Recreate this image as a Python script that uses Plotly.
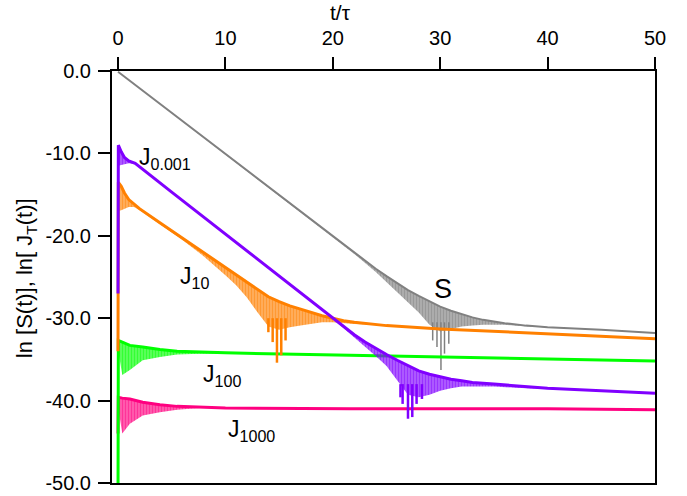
import plotly.graph_objects as go

# ---------------- data ----------------
# S(t): grey curve, upper / lower envelope of the oscillation band
s_t  = [0, 5, 10, 15, 20, 22, 24, 25, 26, 27, 28, 29, 30, 31, 32, 33, 34, 36, 38, 40, 45, 50]
s_hi = [-0.1, -5.1, -10.1, -15.1, -20.1, -22.1, -24.0, -24.9, -25.8, -26.6, -27.3, -28.0, -28.6,
        -29.1, -29.5, -29.9, -30.2, -30.6, -30.9, -31.1, -31.4, -31.8]
s_lo = [-0.1, -5.1, -10.1, -15.1, -20.1, -22.2, -24.4, -25.6, -26.8, -28.0, -29.3, -30.8, -31.6,
        -31.3, -31.0, -30.9, -30.8, -30.8, -31.0, -31.1, -31.4, -31.8]
s_spike_t  = [29.3, 29.7, 30.07, 30.4, 30.8]
s_spike_lo = [-32.7, -33.5, -36.3, -34.3, -33.1]

# J_10: orange
j10_t  = [0, 0.03, 0.3, 0.6, 1.0, 1.5, 2, 4, 6, 8, 9, 10, 11, 12, 13, 14, 15, 16, 17, 18,
          19, 20, 21, 22, 25, 30, 35, 40, 45, 50]
j10_hi = [-34.0, -13.5, -14.0, -14.8, -15.6, -16.2, -16.7, -18.5, -20.3, -22.1, -23.0, -23.8,
          -24.7, -25.6, -26.5, -27.4, -28.0, -28.5, -28.9, -29.3, -29.7, -30.0, -30.3, -30.5,
          -30.9, -31.3, -31.6, -31.9, -32.2, -32.5]
j10_lo = [-34.0, -17.0, -16.9, -16.7, -16.5, -16.5, -16.9, -18.7, -20.5, -22.5, -23.6, -24.8,
          -26.0, -27.5, -29.3, -31.0, -31.4, -31.1, -30.9, -30.7, -30.5, -30.5, -30.6, -30.7,
          -30.9, -31.3, -31.6, -31.9, -32.2, -32.5]
j10_spike_t  = [14.0, 14.4, 14.8, 15.2, 15.6]
j10_spike_lo = [-31.7, -32.9, -35.4, -34.5, -32.7]

# J_0.001: violet
j0001_t  = [0, 0.03, 0.3, 0.6, 1.0, 1.6, 5, 10, 15, 20, 22, 23, 24, 25, 26, 27, 28, 29, 30,
            31, 32, 33, 35, 38, 40, 45, 50]
j0001_hi = [-27.0, -9.0, -9.8, -10.5, -10.9, -11.2, -14.7, -19.8, -24.9, -30.0, -32.0, -32.9,
            -33.7, -34.4, -35.1, -35.8, -36.4, -36.8, -37.1, -37.4, -37.6, -37.8, -38.0, -38.3,
            -38.5, -38.8, -39.1]
j0001_lo = [-27.0, -11.5, -11.4, -11.3, -11.2, -11.3, -14.8, -19.9, -25.0, -30.1, -32.3, -33.4,
            -34.6, -35.8, -37.5, -39.3, -39.6, -39.3, -38.8, -38.5, -38.3, -38.3, -38.3, -38.5,
            -38.6, -38.9, -39.1]
j0001_spike_t  = [26.3, 26.5, 27.0, 27.4, 27.8, 28.3]
j0001_spike_lo = [-39.6, -40.4, -42.2, -42.0, -40.4, -39.8]

# J_100: green
j100_t  = [0, 0.03, 0.4, 1.1, 2.3, 3.9, 5.5, 7.6, 10, 21.6, 30, 40, 50]
j100_hi = [-52.0, -32.7, -32.9, -33.3, -33.5, -33.8, -34.0, -34.1, -34.2, -34.5, -34.7, -34.9, -35.2]
j100_lo = [-52.0, -34.0, -36.9, -36.3, -35.1, -34.7, -34.4, -34.3, -34.3, -34.5, -34.7, -34.9, -35.2]

# J_1000: pink
j1000_t  = [0, 0.03, 0.4, 1.1, 2.3, 3.9, 5.5, 7.6, 10, 21.6, 40, 50]
j1000_hi = [-44.0, -39.6, -39.7, -39.8, -40.2, -40.5, -40.7, -40.8, -40.9, -41.0, -41.0, -41.1]
j1000_lo = [-44.0, -41.0, -44.0, -42.8, -41.8, -41.4, -41.1, -40.9, -40.9, -41.0, -41.0, -41.1]

x_ticks = [0, 10, 20, 30, 40, 50]
y_ticks = [-50, -40, -30, -20, -10, 0]
y_tick_labels = ["-50.0", "-40.0", "-30.0", "-20.0", "-10.0", "0.0"]

# ---------------- figure ----------------
FONT = "Liberation Sans, Arial, Helvetica, sans-serif"
fig = go.Figure()


def rgba(hexcol, a):
    h = hexcol.lstrip("#")
    return "rgba(%d,%d,%d,%.2f)" % (int(h[0:2], 16), int(h[2:4], 16), int(h[4:6], 16), a)


def add_curve(t, hi, lo, color, width, spike_t=None, spike_lo=None, spike_top=None):
    # lower envelope: invisible edge, only used to bound the comb fill
    fig.add_trace(go.Scatter(x=t, y=lo, mode="lines", line=dict(color=color, width=0),
                             hoverinfo="skip", showlegend=False))
    # oscillation band drawn as a dense comb of vertical strokes hanging from the curve
    fig.add_trace(go.Scatter(x=t, y=hi, mode="lines", line=dict(color=color, width=width),
                             fill="tonexty", fillcolor=rgba(color, 0.6),
                             fillpattern=dict(shape="|", fgcolor=color, bgcolor=rgba(color, 0.6),
                                              size=3, solidity=0.5),
                             hoverinfo="skip", showlegend=False))
    if spike_t:
        xs, ys = [], []
        for st, sl in zip(spike_t, spike_lo):
            xs += [st, st, None]
            ys += [spike_top, sl, None]
        fig.add_trace(go.Scatter(x=xs, y=ys, mode="lines", line=dict(color=color, width=width - 0.5),
                                 hoverinfo="skip", showlegend=False))


GREY, PINK, GREEN, ORANGE, VIOLET = "#808080", "#FF0080", "#00FF00", "#FF8000", "#8000FF"

add_curve(s_t, s_hi, s_lo, GREY, 2, s_spike_t, s_spike_lo, -30.5)
add_curve(j1000_t, j1000_hi, j1000_lo, PINK, 3)
add_curve(j100_t, j100_hi, j100_lo, GREEN, 3)
add_curve(j10_t, j10_hi, j10_lo, ORANGE, 3, j10_spike_t, j10_spike_lo, -30.0)
add_curve(j0001_t, j0001_hi, j0001_lo, VIOLET, 3, j0001_spike_t, j0001_spike_lo, -38.0)

labels = [
    ("J<sub>0.001</sub>", 1.75, -10.6, 23),
    ("J<sub>10</sub>", 5.55, -25.0, 23),
    ("J<sub>100</sub>", 7.7, -36.9, 23),
    ("J<sub>1000</sub>", 10.1, -43.6, 23),
]
for txt, x, y, sz in labels:
    fig.add_annotation(x=x, y=y, text=txt, showarrow=False, xanchor="left", yanchor="middle",
                       font=dict(size=sz, color="black", family=FONT))
fig.add_annotation(x=30.3, y=-26.4, text="S", showarrow=False, xanchor="center", yanchor="middle",
                   font=dict(size=27, color="black", family=FONT))

# axis titles as annotations
fig.add_annotation(xref="paper", yref="paper", x=0.4217, y=1.143, text="t/τ", showarrow=False,
                   xanchor="center", yanchor="middle", font=dict(size=21, color="black", family=FONT))
fig.add_annotation(xref="paper", yref="paper", x=-0.158, y=0.4976,
                   text="ln [S(t)], ln[ J<sub>T</sub>(t)]", textangle=-90, showarrow=False,
                   xanchor="center", yanchor="middle", font=dict(size=22, color="black", family=FONT))

fig.update_layout(
    width=687, height=496,
    margin=dict(l=112, r=32, t=71, b=13),
    paper_bgcolor="white", plot_bgcolor="white",
    font=dict(family=FONT, color="black", size=20),
    showlegend=False,
)
fig.update_xaxes(range=[-0.56, 50], side="top", tickvals=x_ticks, ticks="outside", ticklen=12,
                 tickwidth=1.5, tickcolor="black", showline=True, linecolor="black", linewidth=2,
                 mirror=True, showgrid=False, zeroline=False, ticklabelstandoff=4, automargin=False,
                 tickfont=dict(size=20, family=FONT, color="black"))
fig.update_yaxes(range=[-50, 0], tickvals=y_ticks, ticktext=y_tick_labels, ticks="outside",
                 ticklen=12, tickwidth=1.5, tickcolor="black", showline=True, linecolor="black",
                 linewidth=2, mirror=True, showgrid=False, zeroline=False, ticklabelstandoff=3,
                 automargin=False, tickfont=dict(size=20, family=FONT, color="black"))

fig.write_html("out.html", config={"displayModeBar": False},
               post_script="document.body.style.margin='0';document.body.style.overflow='hidden';")
